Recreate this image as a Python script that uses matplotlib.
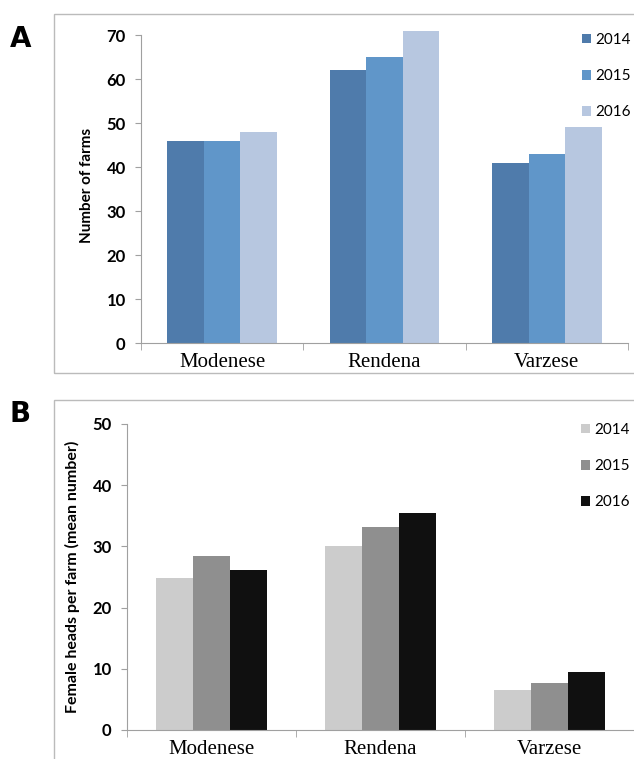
import numpy as np
import matplotlib
matplotlib.use("Agg")
import matplotlib.pyplot as plt
from matplotlib.patches import Rectangle

# data
breeds = ["Modenese", "Rendena", "Varzese"]
years = ["2014", "2015", "2016"]
farms = [[46, 62, 41],   # 2014
         [46, 65, 43],   # 2015
         [48, 71, 49]]   # 2016
heads = [[24.8, 30.0, 6.6],
         [28.5, 33.1, 7.6],
         [26.1, 35.4, 9.4]]

colors_a = ["#4F7BAB", "#6096C9", "#B7C7E0"]
colors_b = ["#CCCCCC", "#8F8F8F", "#101010"]

W, H = 634, 759
fig = plt.figure(figsize=(W / 100, H / 100), dpi=100)


def px(l, t, r, b):
    return [l / W, 1 - b / H, (r - l) / W, (b - t) / H]


# panel frames
fig.add_artist(Rectangle((54 / W, 1 - 373 / H), (640 - 54) / W, (373 - 14) / H,
                         transform=fig.transFigure, fill=False, ec="#BBBBBB", lw=1))
fig.add_artist(Rectangle((54 / W, -0.05), (640 - 54) / W, 1 - 400 / H + 0.05,
                         transform=fig.transFigure, fill=False, ec="#BBBBBB", lw=1))


def panel(rect, vals, cols, ytop, ymax, ylabel, ylsize, bw, leg_xy):
    ax = fig.add_axes(rect)
    x = np.arange(len(breeds))
    for i, yr in enumerate(years):
        ax.bar(x + (i - 1) * bw, vals[i], bw, color=cols[i], label=yr)
    ax.set_xlim(-0.5, len(breeds) - 0.5)
    ax.set_ylim(0, ytop)
    ax.spines["left"].set_bounds(0, ymax)
    for s in ["top", "right"]:
        ax.spines[s].set_visible(False)
    for s in ["left", "bottom"]:
        ax.spines[s].set_color("#A0A0A0")
    ax.set_xticks(x)
    ax.set_xticklabels(breeds, fontsize=15, family="Liberation Serif")
    ax.set_xticks(np.arange(-0.5, len(breeds), 1), minor=True)
    ax.tick_params(axis="x", which="major", length=0, pad=7)
    ax.tick_params(axis="x", which="minor", length=5, color="#A0A0A0")
    ax.tick_params(axis="y", length=4, color="#A0A0A0", pad=7)
    ax.set_yticks(range(0, ymax + 1, 10))
    for t in ax.get_yticklabels():
        t.set_fontfamily("Lato")
        t.set_fontweight("bold")
        t.set_fontsize(12)
    ax.set_ylabel(ylabel, fontsize=ylsize, family="Lato", fontweight="bold", labelpad=9)
    ax.legend(loc="upper left", bbox_to_anchor=(leg_xy[0] / W, 1 - leg_xy[1] / H),
              bbox_transform=fig.transFigure, frameon=False, borderpad=0,
              borderaxespad=0, handlelength=0.6, handleheight=0.6,
              handletextpad=0.25, labelspacing=1.45,
              prop={"family": "Lato", "size": 11})
    return ax


# A: y=0 at 343 px, y=70 at 35 px -> 4.4 px per unit, top at 71.5
axA = panel(px(141, 35 - 1.5 * 4.4, 628, 343), farms, colors_a, 71.5, 70,
            "Number of farms", 11, 0.225, (582, 33))

axB = panel(px(127, 424, 634, 730), heads, colors_b, 50, 50,
            "Female heads per farm (mean number)", 11.5, 0.22, (581, 423))

fig.text(10 / W, 1 - 47 / H, "A", fontsize=20, fontweight="heavy", family="DejaVu Sans")
fig.text(10 / W, 1 - 422 / H, "B", fontsize=20, fontweight="heavy", family="DejaVu Sans")

fig.savefig("out.png", dpi=100)
